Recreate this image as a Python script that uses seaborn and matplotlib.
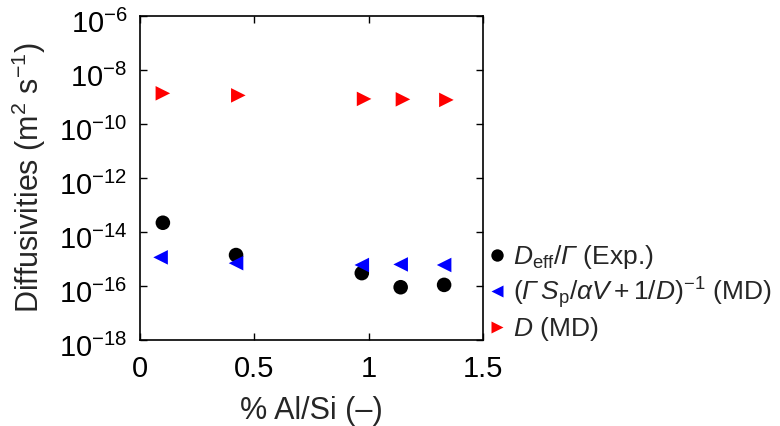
import numpy as np
import pandas as pd
import matplotlib
matplotlib.use("Agg")
import matplotlib.pyplot as plt
import matplotlib.ticker as ticker
import matplotlib.transforms as mtransforms
import seaborn as sns

# values
al_si_exp = [0.10, 0.42, 0.97, 1.14, 1.33]
d_eff_exp = [2.2e-14, 1.4e-15, 3.0e-16, 9.0e-17, 1.1e-16]

al_si_md = [0.09, 0.42, 0.97, 1.14, 1.33]
d_comb_md = [1.15e-15, 7.0e-16, 6.0e-16, 6.3e-16, 6.0e-16]

al_si_d = [0.10, 0.43, 0.98, 1.15, 1.34]
d_md = [1.37e-9, 1.15e-9, 8.5e-10, 8.2e-10, 7.8e-10]

# \mathsf is mapped to the italic face below so the capital Gamma slants
series_labels = [r'$D_{\rm eff}/\mathsf{Γ}$ (Exp.)',
                 r'$(\mathsf{Γ}\,S_{\rm p}/\alpha V+1/D)^{-1}$ (MD)',
                 r'$D$ (MD)']
series_colors = ['black', '#0000ff', '#ff0000']
series_markers = ['o', '<', '>']

df = pd.concat([
    pd.DataFrame({'x': al_si_exp, 'y': d_eff_exp, 'series': series_labels[0]}),
    pd.DataFrame({'x': al_si_md, 'y': d_comb_md, 'series': series_labels[1]}),
    pd.DataFrame({'x': al_si_d, 'y': d_md, 'series': series_labels[2]}),
], ignore_index=True)

sns.set_style('ticks')
plt.rcParams['font.family'] = ['Liberation Sans', 'DejaVu Sans']
plt.rcParams['mathtext.fontset'] = 'custom'
plt.rcParams['mathtext.rm'] = 'Liberation Sans'
plt.rcParams['mathtext.it'] = 'Liberation Sans:italic'
plt.rcParams['mathtext.sf'] = 'Liberation Sans:italic'
plt.rcParams['mathtext.bf'] = 'Liberation Sans:bold'

fig = plt.figure(figsize=(7.8, 4.26), dpi=100)
ax = fig.add_axes([0.1795, 0.2019, 0.4397, 0.7605])

sns.scatterplot(data=df, x='x', y='y', hue='series', style='series',
                hue_order=series_labels, style_order=series_labels,
                palette=dict(zip(series_labels, series_colors)),
                markers=dict(zip(series_labels, series_markers)),
                s=110, edgecolor='none', ax=ax)

ax.set_yscale('log')
ax.set_ylim(1e-18, 1e-6)
ax.set_xlim(0, 1.5)
ax.set_xticks([0, 0.5, 1, 1.5])
ax.xaxis.set_major_formatter(ticker.FuncFormatter(lambda v, p: f'{v:g}'))
ax.yaxis.set_major_locator(ticker.FixedLocator([10.0**k for k in range(-18, -5, 2)]))
ax.yaxis.set_minor_locator(ticker.NullLocator())

ax.tick_params(direction='in', top=True, right=True, length=5, width=1,
               labelsize=21, colors='black')
ax.tick_params(axis='x', pad=11)
ax.tick_params(axis='y', pad=9)
for sp in ax.spines.values():
    sp.set_linewidth(1.2)
    sp.set_color('black')

# MATLAB-like placement: exponent labels sit a little below their tick
shift = mtransforms.ScaledTranslation(0, -5 / 100, fig.dpi_scale_trans)
for lab in ax.get_yticklabels():
    lab.set_transform(lab.get_transform() + shift)

ax.set_xlabel('% Al/Si (–)', fontsize=22, labelpad=9)
ax.set_ylabel(r'Diffusivities (m$^2$ s$^{-1}$)', fontsize=22, labelpad=8)

sns.move_legend(ax, 'lower left', bbox_to_anchor=(1.015, -0.01), frameon=False,
                title=None, fontsize=19, handlelength=0.7, handletextpad=0.25,
                borderpad=0, borderaxespad=0, labelspacing=0.15, markerscale=0.85)

fig.savefig('out.png', dpi=100)
